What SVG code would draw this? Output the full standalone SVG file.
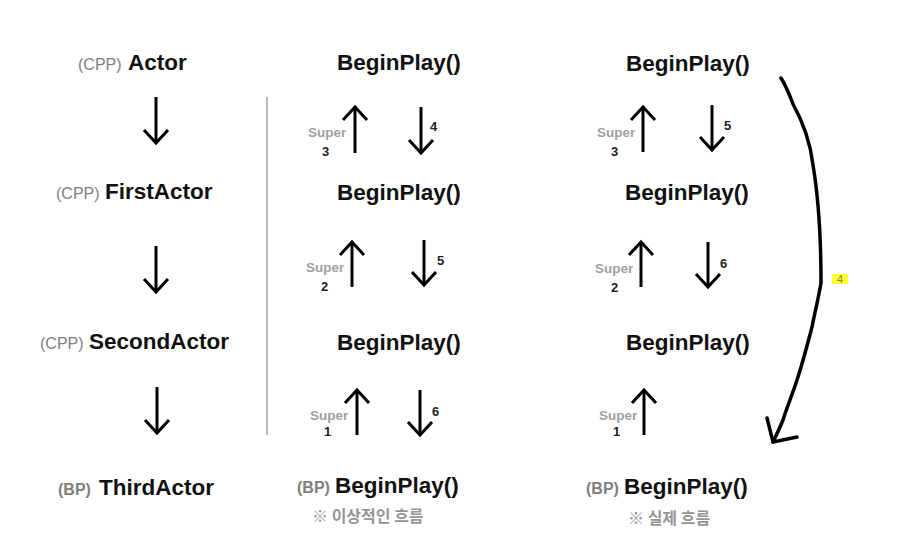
<svg xmlns="http://www.w3.org/2000/svg" width="905" height="552" viewBox="0 0 905 552">
<style>
.t{font-family:"Liberation Sans",Arial,sans-serif;font-weight:bold;font-size:22.5px;fill:#111}
.g{font-family:"Liberation Sans",Arial,sans-serif;font-size:16px;fill:#808080}
.gb{font-family:"Liberation Sans",Arial,sans-serif;font-weight:bold;font-size:16px;fill:#808080}
.s{font-family:"Liberation Sans",Arial,sans-serif;font-weight:bold;font-size:13.5px;fill:#a0a0a0}
.n{font-family:"Liberation Sans",Arial,sans-serif;font-weight:bold;font-size:13px;fill:#222}
.k{font-family:"Noto Sans CJK KR",sans-serif;font-weight:bold;font-size:16px;fill:#959595}
.a{fill:none;stroke:#000;stroke-width:3;marker-end:url(#v)}
.c{fill:none;stroke:#000;stroke-width:3.5;stroke-linecap:round;stroke-linejoin:round}
</style>
<defs>
<marker id="v" markerUnits="userSpaceOnUse" viewBox="-16 -14 20 28" markerWidth="20" markerHeight="28" refX="0" refY="0" orient="auto">
<path d="M-13,-12 L0,0 L-13,12" fill="none" stroke="#000" stroke-width="3"/>
</marker>
</defs>
<rect width="905" height="552" fill="#fff"/>
<line x1="267" y1="97" x2="267" y2="435" stroke="#888" stroke-width="1.2"/>

<g id="left-actor"><text class="g" x="78" y="70">(CPP)</text><text class="t" x="128" y="70">Actor</text></g>
<g id="left-first"><text class="g" x="56" y="199">(CPP)</text><text class="t" x="105" y="199">FirstActor</text></g>
<g id="left-second"><text class="g" x="40" y="349">(CPP)</text><text class="t" x="89" y="349">SecondActor</text></g>
<g id="left-third"><text class="gb" x="58" y="495">(BP)</text><text class="t" x="99" y="495">ThirdActor</text></g>

<g id="mid-1"><text class="t" x="337" y="70">BeginPlay()</text></g>
<g id="mid-2"><text class="t" x="337" y="200">BeginPlay()</text></g>
<g id="mid-3"><text class="t" x="337" y="350">BeginPlay()</text></g>
<g id="mid-4"><text class="gb" x="297" y="493">(BP)</text><text class="t" x="335" y="493">BeginPlay()</text></g>
<g id="mid-note"><text class="k" x="312" y="522">※ 이상적인 흐름</text></g>

<g id="right-1"><text class="t" x="626" y="71">BeginPlay()</text></g>
<g id="right-2"><text class="t" x="625" y="200">BeginPlay()</text></g>
<g id="right-3"><text class="t" x="626" y="350">BeginPlay()</text></g>
<g id="right-4"><text class="gb" x="586" y="494">(BP)</text><text class="t" x="624" y="494">BeginPlay()</text></g>
<g id="right-note"><text class="k" x="628" y="524">※ 실제 흐름</text></g>

<g id="connectors">
<path class="a" d="M156,97 V143"/>
<path class="a" d="M156,246 V292"/>
<path class="a" d="M157,387 V433"/>
<path class="a" d="M355,153 V107"/>
<path class="a" d="M421,107 V153"/>
<path class="a" d="M352,287 V242"/>
<path class="a" d="M424,240 V285"/>
<path class="a" d="M357,435 V390"/>
<path class="a" d="M420,390 V435"/>
<path class="a" d="M643,152 V107"/>
<path class="a" d="M712,105 V150"/>
<path class="a" d="M641,287 V242"/>
<path class="a" d="M708,242 V287"/>
<path class="a" d="M644,435 V390"/>
<path class="c" d="M781,78 C786,86 790,96 793,104 C803,122 810,140 813,165 C818,195 821,235 821,283 C818,300 815,312 812,327 C806,350 802,365 797,380 C791,398 786,410 783,420 C779,430 776,436 773,442"/>
<path class="c" d="M767,418 L773,442 L797,437"/>
</g>

<g id="labels">
<text class="s" x="308" y="137">Super</text><text class="n" x="322" y="156">3</text>
<text class="n" x="430" y="131">4</text>
<text class="s" x="306" y="272">Super</text><text class="n" x="321" y="291">2</text>
<text class="n" x="437" y="265">5</text>
<text class="s" x="310" y="420">Super</text><text class="n" x="324" y="436">1</text>
<text class="n" x="432" y="416">6</text>
<text class="s" x="597" y="137">Super</text><text class="n" x="611" y="156">3</text>
<text class="n" x="724" y="130">5</text>
<text class="s" x="595" y="273">Super</text><text class="n" x="611" y="292">2</text>
<text class="n" x="720" y="268">6</text>
<text class="s" x="599" y="420">Super</text><text class="n" x="613" y="436">1</text>
<rect x="832" y="274" width="16" height="10" fill="#ffff33"/>
<text x="840" y="283" text-anchor="middle" font-family="Liberation Sans,Arial,sans-serif" font-size="11" fill="#8c8c20">4</text>
</g>
</svg>
